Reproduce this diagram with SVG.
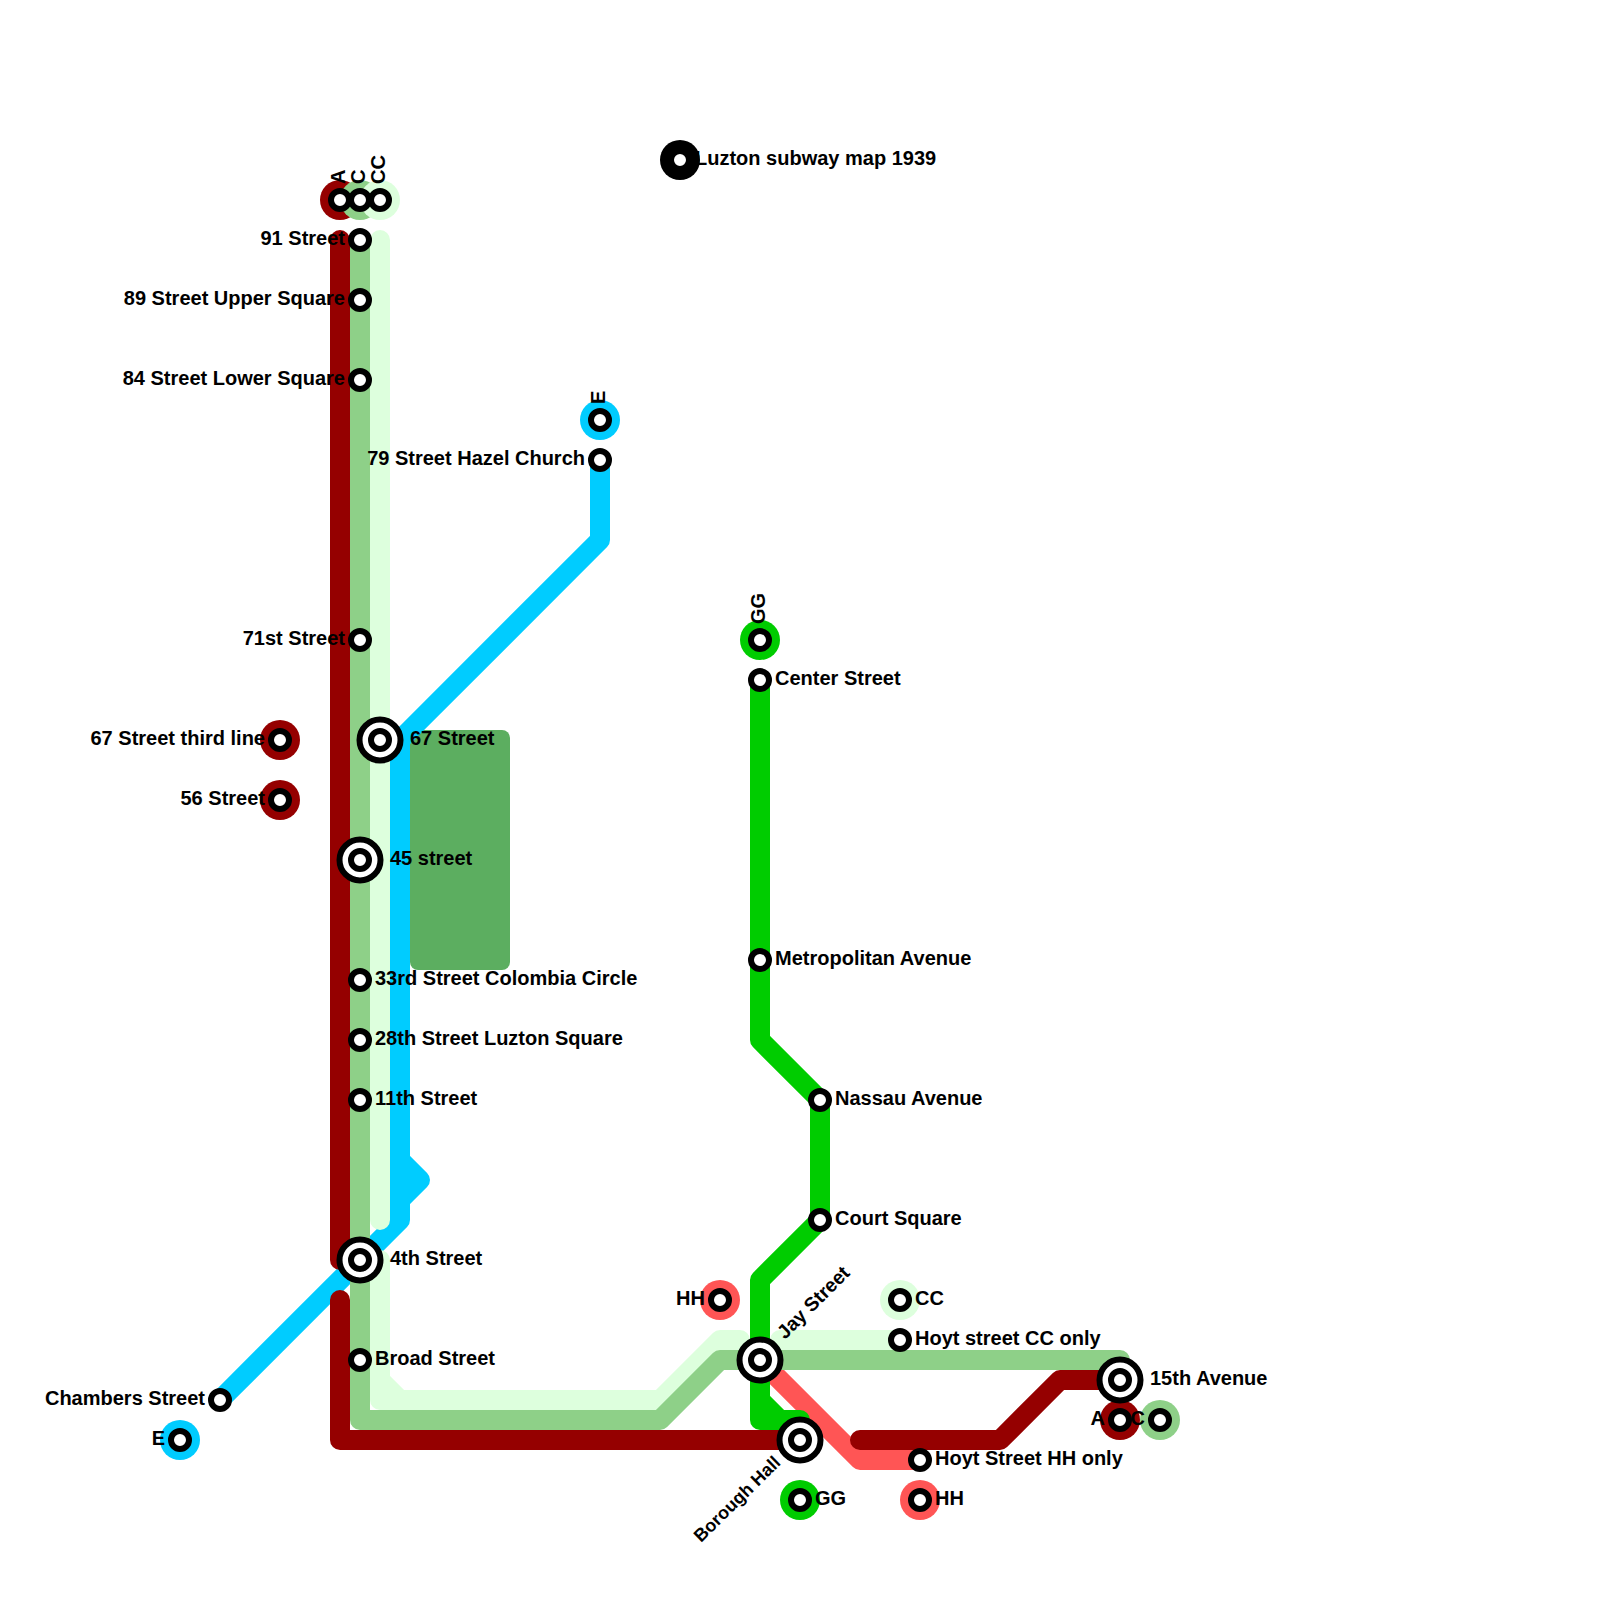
<svg xmlns="http://www.w3.org/2000/svg" width="1600" height="1600" viewBox="0 0 1600 1600">
<style>
.l{fill:none;stroke-width:20;stroke-linecap:round;stroke-linejoin:round}
.a{stroke:#950000}.c{stroke:#8ed088}.cc{stroke:#ddffdd}.e{stroke:#00ccff}.g{stroke:#00cc00}.h{stroke:#ff5555}
.s{fill:#fff;stroke:#000;stroke-width:6}
.i{fill:#fff;stroke:#000;stroke-width:6}
text{font-family:"Liberation Sans",Arial,sans-serif;font-weight:bold;font-size:20px;fill:#000}
.r{text-anchor:end}
</style>
<rect id="park" x="410" y="730" width="100" height="240" rx="8" fill="#5cae60"/>
<g id="connectors">
<path class="l e" d="M600 460V540L400 740V1220L220 1400M400 1160L420 1180L400 1200"/>
<path class="l h" d="M760 1360L860 1460H920"/>
<path class="l g" d="M760 680V1040L820 1100V1220L760 1280V1420H800M760 1400L780 1420"/>
<path class="l cc" d="M380 240V1220M380 1260V1400H660L720 1340H740M380 1380L400 1400M780 1340H900"/>
<path class="l c" d="M360 240V1420H660L720 1360H1120V1380"/>
<path class="l a" d="M340 240V1260M340 1300V1440H800M860 1440H1000L1060 1380H1120"/>
</g>
<g id="n-a-top"><circle cx="340" cy="200" r="20" fill="#950000"/></g>
<g id="n-c-top"><circle cx="360" cy="200" r="20" fill="#8ed088"/></g>
<g id="n-cc-top"><circle cx="380" cy="200" r="20" fill="#ddffdd"/></g>
<g id="n-a-top-s"><circle class="s" cx="340" cy="200" r="9"/><text transform="translate(345 184) rotate(-90)">A</text></g>
<g id="n-c-top-s"><circle class="s" cx="360" cy="200" r="9"/><text transform="translate(365 184) rotate(-90)">C</text></g>
<g id="n-cc-top-s"><circle class="s" cx="380" cy="200" r="9"/><text transform="translate(385 184) rotate(-90)">CC</text></g>
<g id="n-91"><circle class="s" cx="360" cy="240" r="9"/><text class="r" x="345" y="245">91 Street</text></g>
<g id="n-89"><circle class="s" cx="360" cy="300" r="9"/><text class="r" x="345" y="305">89 Street Upper Square</text></g>
<g id="n-84"><circle class="s" cx="360" cy="380" r="9"/><text class="r" x="345" y="385">84 Street Lower Square</text></g>
<g id="n-71"><circle class="s" cx="360" cy="640" r="9"/><text class="r" x="345" y="645">71st Street</text></g>
<g id="n-67"><circle class="i" cx="380" cy="740" r="20.5"/><circle class="s" cx="380" cy="740" r="9"/><text x="410" y="745">67 Street</text></g>
<g id="n-45"><circle class="i" cx="360" cy="860" r="20.5"/><circle class="s" cx="360" cy="860" r="9"/><text x="390" y="865">45 street</text></g>
<g id="n-33"><circle class="s" cx="360" cy="980" r="9"/><text x="375" y="985">33rd Street Colombia Circle</text></g>
<g id="n-28"><circle class="s" cx="360" cy="1040" r="9"/><text x="375" y="1045">28th Street Luzton Square</text></g>
<g id="n-11"><circle class="s" cx="360" cy="1100" r="9"/><text x="375" y="1105">11th Street</text></g>
<g id="n-4"><circle class="i" cx="360" cy="1260" r="20.5"/><circle class="s" cx="360" cy="1260" r="9"/><text x="390" y="1265">4th Street</text></g>
<g id="n-broad"><circle class="s" cx="360" cy="1360" r="9"/><text x="375" y="1365">Broad Street</text></g>
<g id="n-e-top"><circle cx="600" cy="420" r="20" fill="#00ccff"/><circle class="s" cx="600" cy="420" r="9"/><text transform="translate(605 404) rotate(-90)">E</text></g>
<g id="n-79"><circle class="s" cx="600" cy="460" r="9"/><text class="r" x="585" y="465">79 Street Hazel Church</text></g>
<g id="n-67t"><circle cx="280" cy="740" r="20" fill="#950000"/><circle class="s" cx="280" cy="740" r="9"/><text class="r" x="265" y="745">67 Street third line</text></g>
<g id="n-56"><circle cx="280" cy="800" r="20" fill="#950000"/><circle class="s" cx="280" cy="800" r="9"/><text class="r" x="265" y="805">56 Street</text></g>
<g id="n-chambers"><circle class="s" cx="220" cy="1400" r="9"/><text class="r" x="205" y="1405">Chambers Street</text></g>
<g id="n-e-bot"><circle cx="180" cy="1440" r="20" fill="#00ccff"/><circle class="s" cx="180" cy="1440" r="9"/><text class="r" x="165" y="1445">E</text></g>
<g id="n-title"><circle cx="680" cy="160" r="20" fill="#000"/><circle class="s" cx="680" cy="160" r="9"/><text x="695" y="165">Luzton subway map 1939</text></g>
<g id="n-gg-top"><circle cx="760" cy="640" r="20" fill="#00cc00"/><circle class="s" cx="760" cy="640" r="9"/><text transform="translate(765 624) rotate(-90)">GG</text></g>
<g id="n-center"><circle class="s" cx="760" cy="680" r="9"/><text x="775" y="685">Center Street</text></g>
<g id="n-metro"><circle class="s" cx="760" cy="960" r="9"/><text x="775" y="965">Metropolitan Avenue</text></g>
<g id="n-nassau"><circle class="s" cx="820" cy="1100" r="9"/><text x="835" y="1105">Nassau Avenue</text></g>
<g id="n-court"><circle class="s" cx="820" cy="1220" r="9"/><text x="835" y="1225">Court Square</text></g>
<g id="n-jay"><circle class="i" cx="760" cy="1360" r="20.5"/><circle class="s" cx="760" cy="1360" r="9"/><text style="font-size:19.5px" transform="translate(785 1340) rotate(-45)">Jay Street</text></g>
<g id="n-borough"><circle class="i" cx="800" cy="1440" r="20.5"/><circle class="s" cx="800" cy="1440" r="9"/><text style="font-size:18px" transform="translate(701 1543) rotate(-44.5)">Borough Hall</text></g>
<g id="n-gg-bot"><circle cx="800" cy="1500" r="20" fill="#00cc00"/><circle class="s" cx="800" cy="1500" r="9"/><text x="815" y="1505">GG</text></g>
<g id="n-hh-l"><circle cx="720" cy="1300" r="20" fill="#ff5555"/><circle class="s" cx="720" cy="1300" r="9"/><text class="r" x="705" y="1305">HH</text></g>
<g id="n-cc-r"><circle cx="900" cy="1300" r="20" fill="#ddffdd"/><circle class="s" cx="900" cy="1300" r="9"/><text x="915" y="1305">CC</text></g>
<g id="n-hoyt-cc"><circle class="s" cx="900" cy="1340" r="9"/><text x="915" y="1345">Hoyt street CC only</text></g>
<g id="n-hoyt-hh"><circle class="s" cx="920" cy="1460" r="9"/><text x="935" y="1465">Hoyt Street HH only</text></g>
<g id="n-hh-r"><circle cx="920" cy="1500" r="20" fill="#ff5555"/><circle class="s" cx="920" cy="1500" r="9"/><text x="935" y="1505">HH</text></g>
<g id="n-a-end"><circle cx="1120" cy="1420" r="20" fill="#950000"/></g>
<g id="n-c-end"><circle cx="1160" cy="1420" r="20" fill="#8ed088"/><circle class="s" cx="1160" cy="1420" r="9"/></g>
<g id="n-a-end-s"><circle class="s" cx="1120" cy="1420" r="9"/><text class="r" x="1105" y="1425">A</text><text class="r" x="1145" y="1425">C</text></g>
<g id="n-15"><circle class="i" cx="1120" cy="1380" r="20.5"/><circle class="s" cx="1120" cy="1380" r="9"/><text x="1150" y="1385">15th Avenue</text></g>
</svg>
